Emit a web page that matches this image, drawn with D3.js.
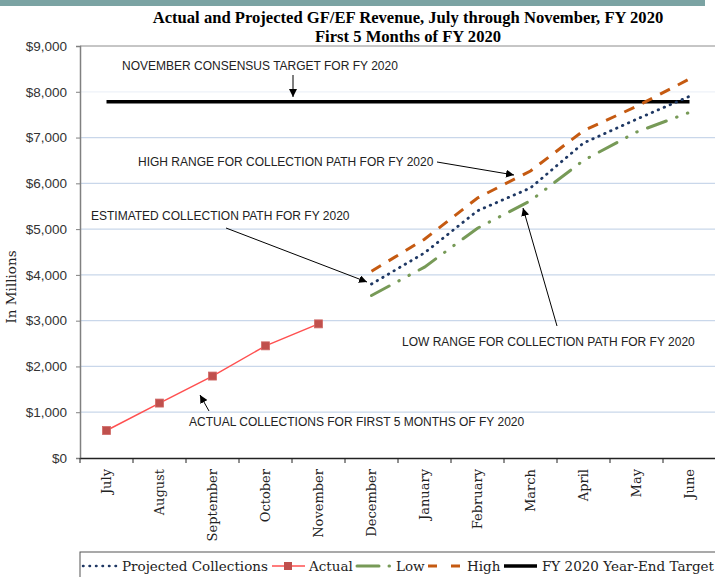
<!DOCTYPE html>
<html>
<head>
<meta charset="utf-8">
<script src="https://cdn.jsdelivr.net/npm/d3@7"></script>
<style>
  body { margin: 0; background: #fff; }
  svg { display: block; }
</style>
</head>
<body>
<svg width="715" height="577"></svg>
<script>
// months of the fiscal year
var months = ['July', 'August', 'September', 'October', 'November', 'December',
              'January', 'February', 'March', 'April', 'May', 'June']
// actual collections, first 5 months ($ millions)
var actualMonths = ['July', 'August', 'September', 'October', 'November']
var actual = [600, 1200, 1790, 2450, 2930]
// projections, December - June
var projMonths = ['December', 'January', 'February', 'March', 'April', 'May', 'June']
var projected = [3800, 4480, 5400, 5900, 6880, 7400, 7900]
var low = [3550, 4170, 5020, 5620, 6500, 7120, 7550]
var high = [4080, 4780, 5680, 6270, 7150, 7680, 8280]
// year-end consensus target
var target = 7780
var yTicks = [0, 1000, 2000, 3000, 4000, 5000, 6000, 7000, 8000, 9000]

var serif = 'DejaVu Serif'
var sans = 'Liberation Sans'

var svg = d3.select('svg')
// note: "top" is taken by window.top, so plot edges get their own names
var pLeft = 80, pRight = 716, pTop = 46, pBottom = 458

var x = d3.scaleBand().domain(months).range([pLeft, pRight])
var y = d3.scaleLinear().domain([0, 9000]).range([pBottom, pTop])
var cx = function(m) { return x(m) + x.bandwidth() / 2 }

// top bar
svg.append('rect')
    .attr('x', 0).attr('y', 0)
    .attr('width', 705).attr('height', 6)
    .attr('fill', '#7ba3a3')

// title
var title = svg.append('text')
    .attr('text-anchor', 'middle')
    .attr('font-family', 'Liberation Serif')
    .attr('font-weight', 'bold')
    .attr('font-size', 16.6)
title.append('tspan').attr('x', 408).attr('y', 23)
    .text('Actual and Projected GF/EF Revenue, July through November, FY 2020')
title.append('tspan').attr('x', 408).attr('y', 42)
    .text('First 5 Months of FY 2020')

// gridlines
svg.append('g')
    .selectAll('line')
    .data(yTicks.filter(function(d) { return d > 0 && d < 9000 }))
    .enter()
    .append('line')
    .attr('x1', pLeft).attr('x2', pRight)
    .attr('y1', function(d) { return y(d) })
    .attr('y2', function(d) { return y(d) })
    .attr('stroke', function(d) { return d == 8000 ? '#eef2f8' : '#c9d7ea' })
    .attr('stroke-width', 1.2)

// plot top border
svg.append('line')
    .attr('x1', pLeft).attr('x2', pRight)
    .attr('y1', pTop).attr('y2', pTop)
    .attr('stroke', '#8c8c8c')

// y axis
var yAxis = svg.append('g')
    .attr('transform', 'translate(' + pLeft + ',0)')
    .call(d3.axisLeft(y).tickValues(yTicks).tickSize(4).tickPadding(9)
        .tickFormat(function(d) { return '$' + d3.format(',')(d) }))
yAxis.select('.domain').attr('stroke', '#808080').attr('stroke-width', 1.5)
yAxis.selectAll('.tick line').attr('stroke', '#808080')
yAxis.selectAll('text')
    .attr('font-family', sans)
    .attr('font-size', 13.5)
    .attr('fill', '#333')

svg.append('text')
    .attr('transform', 'translate(16,287) rotate(-90)')
    .attr('text-anchor', 'middle')
    .attr('font-family', serif)
    .attr('font-size', 13.5)
    .attr('fill', '#222')
    .text('In Millions')

// x axis
var xAxis = svg.append('g')
    .attr('transform', 'translate(0,' + pBottom + ')')
    .call(d3.axisBottom(x).tickSize(0).tickPadding(0))
xAxis.select('.domain').attr('stroke', '#222').attr('stroke-width', 1.5)
xAxis.selectAll('text')
    .attr('transform', 'rotate(-90)')
    .attr('text-anchor', 'end')
    .attr('x', -11)
    .attr('y', 0)
    .attr('dy', '0.35em')
    .attr('font-family', serif)
    .attr('font-size', 13)
    .attr('fill', '#222')
xAxis.selectAll('.boundary')
    .data(d3.range(months.length + 1))
    .enter()
    .append('line')
    .attr('x1', function(i) { return pLeft + i * x.step() })
    .attr('x2', function(i) { return pLeft + i * x.step() })
    .attr('y1', 0).attr('y2', 5)
    .attr('stroke', '#222')

// series
var line = d3.line()
    .x(function(d) { return cx(d.m) })
    .y(function(d) { return y(d.v) })
var pair = function(ms, vs) {
    return ms.map(function(m, i) { return {m: m, v: vs[i]} })
}

svg.append('path')
    .attr('d', line(months.map(function(m) { return {m: m, v: target} })))
    .attr('fill', 'none')
    .attr('stroke', '#000')
    .attr('stroke-width', 3.5)

svg.append('path')
    .attr('d', line(pair(projMonths, low)))
    .attr('fill', 'none')
    .attr('stroke', '#779a57')
    .attr('stroke-width', 3)
    .attr('stroke-linecap', 'round')
    .attr('stroke-dasharray', '20,11,0.5,11,0.5,11')

svg.append('path')
    .attr('d', line(pair(projMonths, high)))
    .attr('fill', 'none')
    .attr('stroke', '#c55a11')
    .attr('stroke-width', 3)
    .attr('stroke-dasharray', '11,9')

svg.append('path')
    .attr('d', line(pair(projMonths, projected)))
    .attr('fill', 'none')
    .attr('stroke', '#1f3864')
    .attr('stroke-width', 2.8)
    .attr('stroke-linecap', 'round')
    .attr('stroke-dasharray', '0.5,6')

svg.append('path')
    .attr('d', line(pair(actualMonths, actual)))
    .attr('fill', 'none')
    .attr('stroke', '#ff5050')
    .attr('stroke-width', 1.5)

svg.append('g')
    .selectAll('rect')
    .data(pair(actualMonths, actual))
    .enter()
    .append('rect')
    .attr('x', function(d) { return cx(d.m) - 4 })
    .attr('y', function(d) { return y(d.v) - 4 })
    .attr('width', 8).attr('height', 8)
    .attr('fill', '#c0504d')
    .attr('stroke', '#d06a67')
    .attr('stroke-width', 0.8)

// annotations
svg.append('defs').append('marker')
    .attr('id', 'arrow')
    .attr('viewBox', '0 0 10 10')
    .attr('refX', 10).attr('refY', 5)
    .attr('markerWidth', 8).attr('markerHeight', 8)
    .attr('markerUnits', 'userSpaceOnUse')
    .attr('orient', 'auto')
    .append('path')
    .attr('d', 'M0,0L10,5L0,10z')
    .attr('fill', '#000')

var notes = [
    {t: 'NOVEMBER CONSENSUS TARGET FOR FY 2020', x: 122, y: 66, a: [293, 75, 293, 97]},
    {t: 'HIGH RANGE FOR COLLECTION PATH FOR FY 2020', x: 138, y: 162, a: [437, 162, 514, 175]},
    {t: 'ESTIMATED COLLECTION PATH FOR FY 2020', x: 91, y: 216, a: [226, 228, 367, 282]},
    {t: 'LOW RANGE FOR COLLECTION PATH FOR FY 2020', x: 402, y: 342, a: [557, 326, 523, 208]},
    {t: 'ACTUAL COLLECTIONS FOR FIRST 5 MONTHS OF FY 2020', x: 189, y: 422, a: [209, 411, 200, 395]}
]
svg.append('g')
    .selectAll('text')
    .data(notes)
    .enter()
    .append('text')
    .attr('x', function(d) { return d.x })
    .attr('y', function(d) { return d.y })
    .attr('dy', '0.35em')
    .attr('font-family', sans)
    .attr('font-size', 12)
    .attr('fill', '#222')
    .text(function(d) { return d.t })
svg.append('g')
    .selectAll('line')
    .data(notes)
    .enter()
    .append('line')
    .attr('x1', function(d) { return d.a[0] })
    .attr('y1', function(d) { return d.a[1] })
    .attr('x2', function(d) { return d.a[2] })
    .attr('y2', function(d) { return d.a[3] })
    .attr('stroke', '#000')
    .attr('stroke-width', 1)
    .attr('marker-end', 'url(#arrow)')

// legend
svg.append('rect')
    .attr('x', 80).attr('y', 552)
    .attr('width', 640).attr('height', 40)
    .attr('fill', '#fff')
    .attr('stroke', '#555')

var lg = svg.append('g').attr('transform', 'translate(0,566)')
function legendText(s, x0, w) {
    var t = lg.append('text')
        .attr('x', x0).attr('dy', '0.35em')
        .attr('font-family', serif)
        .attr('font-size', 13.5)
        .attr('fill', '#222')
        .text(s)
    if (w && t.node().getComputedTextLength() > w) {
        t.attr('textLength', w).attr('lengthAdjust', 'spacingAndGlyphs')
    }
}
function legendLine(x0, x1, color, sw, dash, cap) {
    lg.append('line')
        .attr('x1', x0).attr('x2', x1)
        .attr('stroke', color).attr('stroke-width', sw)
        .attr('stroke-dasharray', dash)
        .attr('stroke-linecap', cap || 'butt')
}
legendLine(83, 117, '#1f3864', 2.5, '0.5,6', 'round')
legendText('Projected Collections', 122)
legendLine(272, 305, '#ff5050', 1.5, null)
lg.append('rect').attr('x', 284).attr('y', -4).attr('width', 8).attr('height', 8)
    .attr('fill', '#c0504d')
legendText('Actual', 309)
legendLine(357, 391, '#779a57', 3, '22,10,0.5,20', 'round')
legendText('Low', 396)
legendLine(428, 460, '#c55a11', 3, '9,14', null)
legendText('High', 467)
legendLine(504, 537, '#000', 3.5, null)
legendText('FY 2020 Year-End Target', 542, 172)
</script>
</body>
</html>
